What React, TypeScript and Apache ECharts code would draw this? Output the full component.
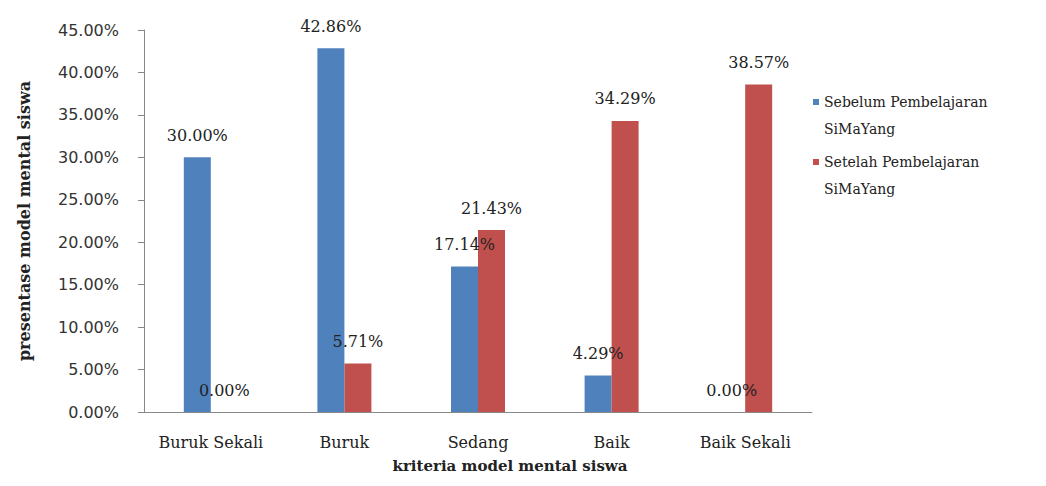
import React, { useEffect, useRef } from "react";
import * as echarts from "echarts";

const categories = ["Buruk Sekali", "Buruk", "Sedang", "Baik", "Baik Sekali"];
const sebelum = [30.0, 42.86, 17.14, 4.29, 0.0];
const setelah = [0.0, 5.71, 21.43, 34.29, 38.57];
const seriesNames = ["Sebelum Pembelajaran\nSiMaYang", "Setelah Pembelajaran\nSiMaYang"];

export default function App() {
  const ref = useRef<HTMLDivElement>(null);
  useEffect(() => {
    const chart = echarts.init(ref.current!, null, { renderer: "svg" });
    const serif = "'DejaVu Serif', 'Liberation Serif', serif";
    const sans = "'DejaVu Sans', 'Liberation Sans', sans-serif";
    const labelCfg = {
      show: true,
      position: "top",
      distance: 14,
      formatter: (p: any) => p.value.toFixed(2) + "%",
      fontFamily: serif,
      fontSize: 16,
      color: "#222",
    };
    chart.setOption({
      animation: false,
      backgroundColor: "#fff",
      grid: { left: 129, top: 22, right: 226, bottom: 58 },
      legend: {
        orient: "vertical",
        left: 800,
        top: 75,
        itemWidth: 6,
        itemHeight: 32,
        itemGap: 6,
        icon: "path://M0,0L6,0L6,6L0,6Z M0,32L0.01,32L0.01,32.01Z",
        textStyle: { fontFamily: serif, fontSize: 14, color: "#222", lineHeight: 27 },
        data: seriesNames,
      },
      xAxis: {
        type: "category",
        data: categories,
        name: "kriteria model mental siswa",
        nameLocation: "middle",
        nameGap: 46,
        nameTextStyle: {
          fontFamily: serif,
          fontSize: 15,
          fontWeight: "bold",
          color: "#222",
          padding: [0, 0, 0, 64],
        },
        axisLine: { lineStyle: { color: "#888", width: 1 } },
        axisTick: { show: false },
        axisLabel: { fontFamily: serif, fontSize: 16, color: "#222", margin: 22, interval: 0 },
      },
      yAxis: {
        type: "value",
        min: 0,
        max: 45,
        interval: 5,
        name: "presentase model mental siswa",
        nameLocation: "middle",
        nameGap: 112,
        nameTextStyle: { fontFamily: serif, fontSize: 16, fontWeight: "bold", color: "#222" },
        axisLine: { show: true, lineStyle: { color: "#888", width: 1 } },
        axisTick: { show: true, length: 6, lineStyle: { color: "#888" } },
        splitLine: { show: false },
        axisLabel: {
          fontFamily: sans,
          fontSize: 16,
          color: "#333",
          margin: 25,
          formatter: (v: number) => v.toFixed(2) + "%",
        },
      },
      series: [
        {
          name: seriesNames[0],
          type: "bar",
          data: sebelum,
          barWidth: 27,
          barGap: "0%",
          itemStyle: { color: "#4F81BD" },
          label: labelCfg,
        },
        {
          name: seriesNames[1],
          type: "bar",
          data: setelah,
          barWidth: 27,
          barGap: "0%",
          itemStyle: { color: "#C0504D" },
          label: labelCfg,
        },
      ],
    });
    return () => chart.dispose();
  }, []);
  return <div ref={ref} style={{ width: 1030, height: 470 }} />;
}
